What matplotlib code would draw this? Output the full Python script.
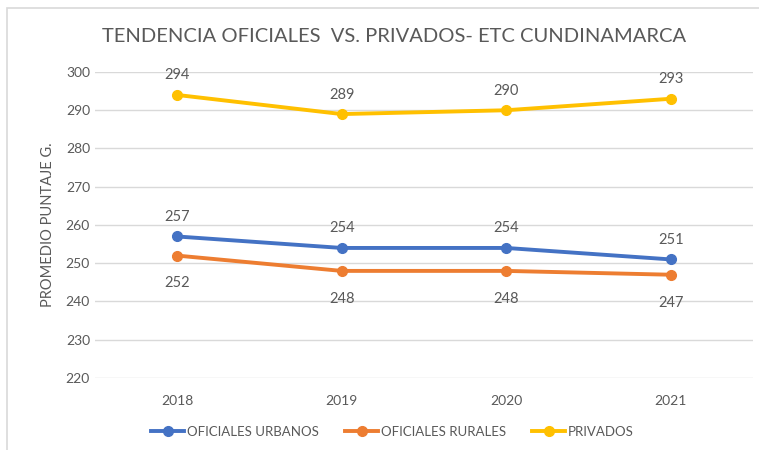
import matplotlib.pyplot as plt
from matplotlib.patches import Rectangle

years = ["2018", "2019", "2020", "2021"]
urbanos = [257, 254, 254, 251]
rurales = [252, 248, 248, 247]
privados = [294, 289, 290, 293]

TEXT = "#595959"
plt.rcParams["font.family"] = ["Lato", "DejaVu Sans"]

fig = plt.figure(figsize=(7.59, 4.5), dpi=100)
ax = fig.add_axes([0.125, 0.16, 0.867, 0.68])

series = [
    ("OFICIALES URBANOS", urbanos, "#4472C4", 9),
    ("OFICIALES RURALES", rurales, "#ED7D31", -15),
    ("PRIVADOS", privados, "#FFC000", 9),
]
x = list(range(len(years)))
for label, vals, color, off in series:
    ax.plot(x, vals, color=color, linewidth=2.8, marker="o", markersize=7, label=label)
    for xi, v in zip(x, vals):
        ax.annotate(str(v), (xi, v), xytext=(0, off), textcoords="offset points",
                    ha="center", va="bottom" if off > 0 else "top", fontsize=10.5, color=TEXT)

ax.set_xlim(-0.5, 3.5)
ax.set_ylim(220, 300)
ax.set_yticks(range(220, 301, 10))
ax.set_xticks(x)
ax.set_xticklabels(years)
ax.grid(axis="y", color="#D9D9D9", linewidth=1)
ax.set_axisbelow(True)
for s in ax.spines.values():
    s.set_visible(False)
ax.tick_params(length=0, colors=TEXT, labelsize=10)
ax.tick_params(axis="x", pad=12)
ax.set_ylabel("PROMEDIO PUNTAJE G.", color=TEXT, fontsize=10.5, labelpad=8)

fig.text(0.519, 0.918, "TENDENCIA OFICIALES  VS. PRIVADOS- ETC CUNDINAMARCA",
         ha="center", va="center", fontsize=14.5, color=TEXT)

fig.legend(loc="center", bbox_to_anchor=(0.517, 0.04), ncol=3, frameon=False,
           fontsize=9.5, labelcolor=TEXT, handlelength=2.5, columnspacing=2, handletextpad=0.2)

fig.patches.append(Rectangle((7 / 759, -0.1), 1, 1 - 8 / 450 + 0.1, transform=fig.transFigure,
                             fill=False, edgecolor="#D9D9D9", linewidth=1.2))

fig.savefig("out.png", dpi=100)
